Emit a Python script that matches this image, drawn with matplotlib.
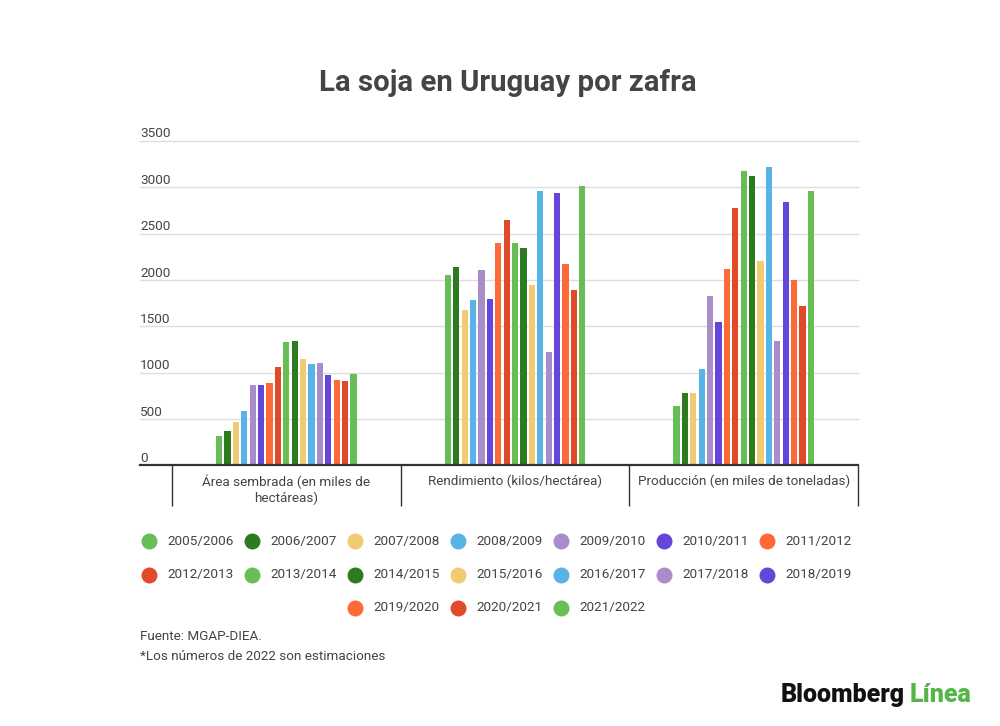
import matplotlib
matplotlib.use("Agg")
import matplotlib.pyplot as plt
from matplotlib.lines import Line2D
import numpy as np

plt.rcParams['font.family'] = ['Roboto', 'DejaVu Sans']

categories = ["Área sembrada (en miles de\nhectáreas)",
              "Rendimiento (kilos/hectárea)",
              "Producción (en miles de toneladas)"]
seasons = ["2005/2006", "2006/2007", "2007/2008", "2008/2009", "2009/2010",
           "2010/2011", "2011/2012", "2012/2013", "2013/2014", "2014/2015",
           "2015/2016", "2016/2017", "2017/2018", "2018/2019", "2019/2020",
           "2020/2021", "2021/2022"]
area = [317, 371, 464, 583, 871, 871, 889, 1058, 1328, 1343,
        1148, 1094, 1102, 972, 925, 914, 990]
rendimiento = [2052, 2138, 1681, 1789, 2113, 1796, 2401, 2646, 2401, 2344,
               1948, 2963, 1224, 2938, 2178, 1890, 3010]
produccion = [637, 785, 778, 1037, 1825, 1552, 2120, 2776, 3172, 3118,
              2210, 3222, 1343, 2837, 2002, 1717, 2956]
colors = ["#68BD56", "#2D7B1F", "#F1CB73", "#58B4E6", "#A98CCA", "#6447DA",
          "#FE6A37", "#E14A29", "#68BD56", "#2D7B1F", "#F1CB73", "#58B4E6",
          "#A98CCA", "#6447DA", "#FE6A37", "#E14A29", "#68BD56"]
yticks = [0, 500, 1000, 1500, 2000, 2500, 3000, 3500]

title = "La soja en Uruguay por zafra"
source = "Fuente: MGAP-DIEA."
note = "*Los números de 2022 son estimaciones"

TXT = "#444444"
W, H = 1000, 726
fig = plt.figure(figsize=(W / 100, H / 100), dpi=100)
fig.patch.set_facecolor("white")

ax_l, ax_r, ax_t, ax_b = 140, 858, 141, 465.5
ax = fig.add_axes([ax_l / W, 1 - ax_b / H, (ax_r - ax_l) / W, (ax_b - ax_t) / H])
ax.set_facecolor("white")

ncat = len(categories)
cat_px = (ax_r - 172) / ncat
left_extra = (172 - ax_l) / cat_px
ax.set_xlim(-0.5 - left_extra, ncat - 0.5)
ax.set_ylim(0, 3500)

data = np.array([area, rendimiento, produccion])  # shape (3, 17)
nser = len(seasons)
pitch = 8.4 / cat_px
bw = 6.2 / cat_px
x = np.arange(ncat)
for i in range(nser):
    ax.bar(x + (i - (nser - 1) / 2) * pitch, data[:, i], width=bw,
           color=colors[i], zorder=3, linewidth=0)

# gridlines
for v in yticks[1:]:
    ax.axhline(v, color="#dedede", lw=1, zorder=1, clip_on=False)
ax.axhline(0, color="#333333", lw=1.6, zorder=4, clip_on=False)
for v in yticks:
    ax.text(-0.5 - left_extra, v + 38, str(v), ha="left", va="baseline",
            fontsize=9.7, color=TXT)

# category dividers
ax.vlines(np.arange(ncat + 1) - 0.5, -0.125, 0, transform=ax.get_xaxis_transform(),
          color="#333333", lw=1, clip_on=False)
for i, c in enumerate(categories):
    ax.text(i, -0.028, c, transform=ax.get_xaxis_transform(), ha="center", va="top",
            fontsize=9.7, color=TXT, linespacing=1.2)

for s in ax.spines.values():
    s.set_visible(False)
ax.set_xticks([])
ax.set_yticks([])

# title
fig.text(508 / W, 1 - 83 / H, title, ha="center", va="center", fontsize=21.2,
         fontweight="bold", color=TXT)

# legend (manual, centered rows of 7)
per_row = 7
col_px, row_px = 103, 33.5
x0, y0 = 149, 541
for i, (s, c) in enumerate(zip(seasons, colors)):
    r, k = divmod(i, per_row)
    n_in_row = min(per_row, nser - r * per_row)
    off = (per_row - n_in_row) / 2
    cx = x0 + (k + off) * col_px
    cy = y0 + r * row_px
    fig.add_artist(Line2D([cx / W], [1 - cy / H], marker="o", markersize=11.5,
                          color=c, markeredgewidth=0, transform=fig.transFigure))
    fig.text((cx + 18) / W, 1 - cy / H, s, ha="left", va="center",
             fontsize=9.7, color=TXT)

fig.text(140 / W, 1 - 636 / H, source, ha="left", va="center", fontsize=9.7, color=TXT)
fig.text(140 / W, 1 - 657 / H, note, ha="left", va="center", fontsize=9.7, color=TXT)

# logo text
t1 = fig.text(781 / W, 1 - 695 / H, "Bloomberg", ha="left", va="center",
              fontsize=18, fontweight="heavy", color="#111111")
fig.canvas.draw()
bb = t1.get_window_extent()
fig.text((bb.x1 + 5) / W, 1 - 695 / H, "Línea", ha="left", va="center",
         fontsize=18, fontweight="heavy", color="#55B548")

fig.savefig("out.png", dpi=100, facecolor="white")
